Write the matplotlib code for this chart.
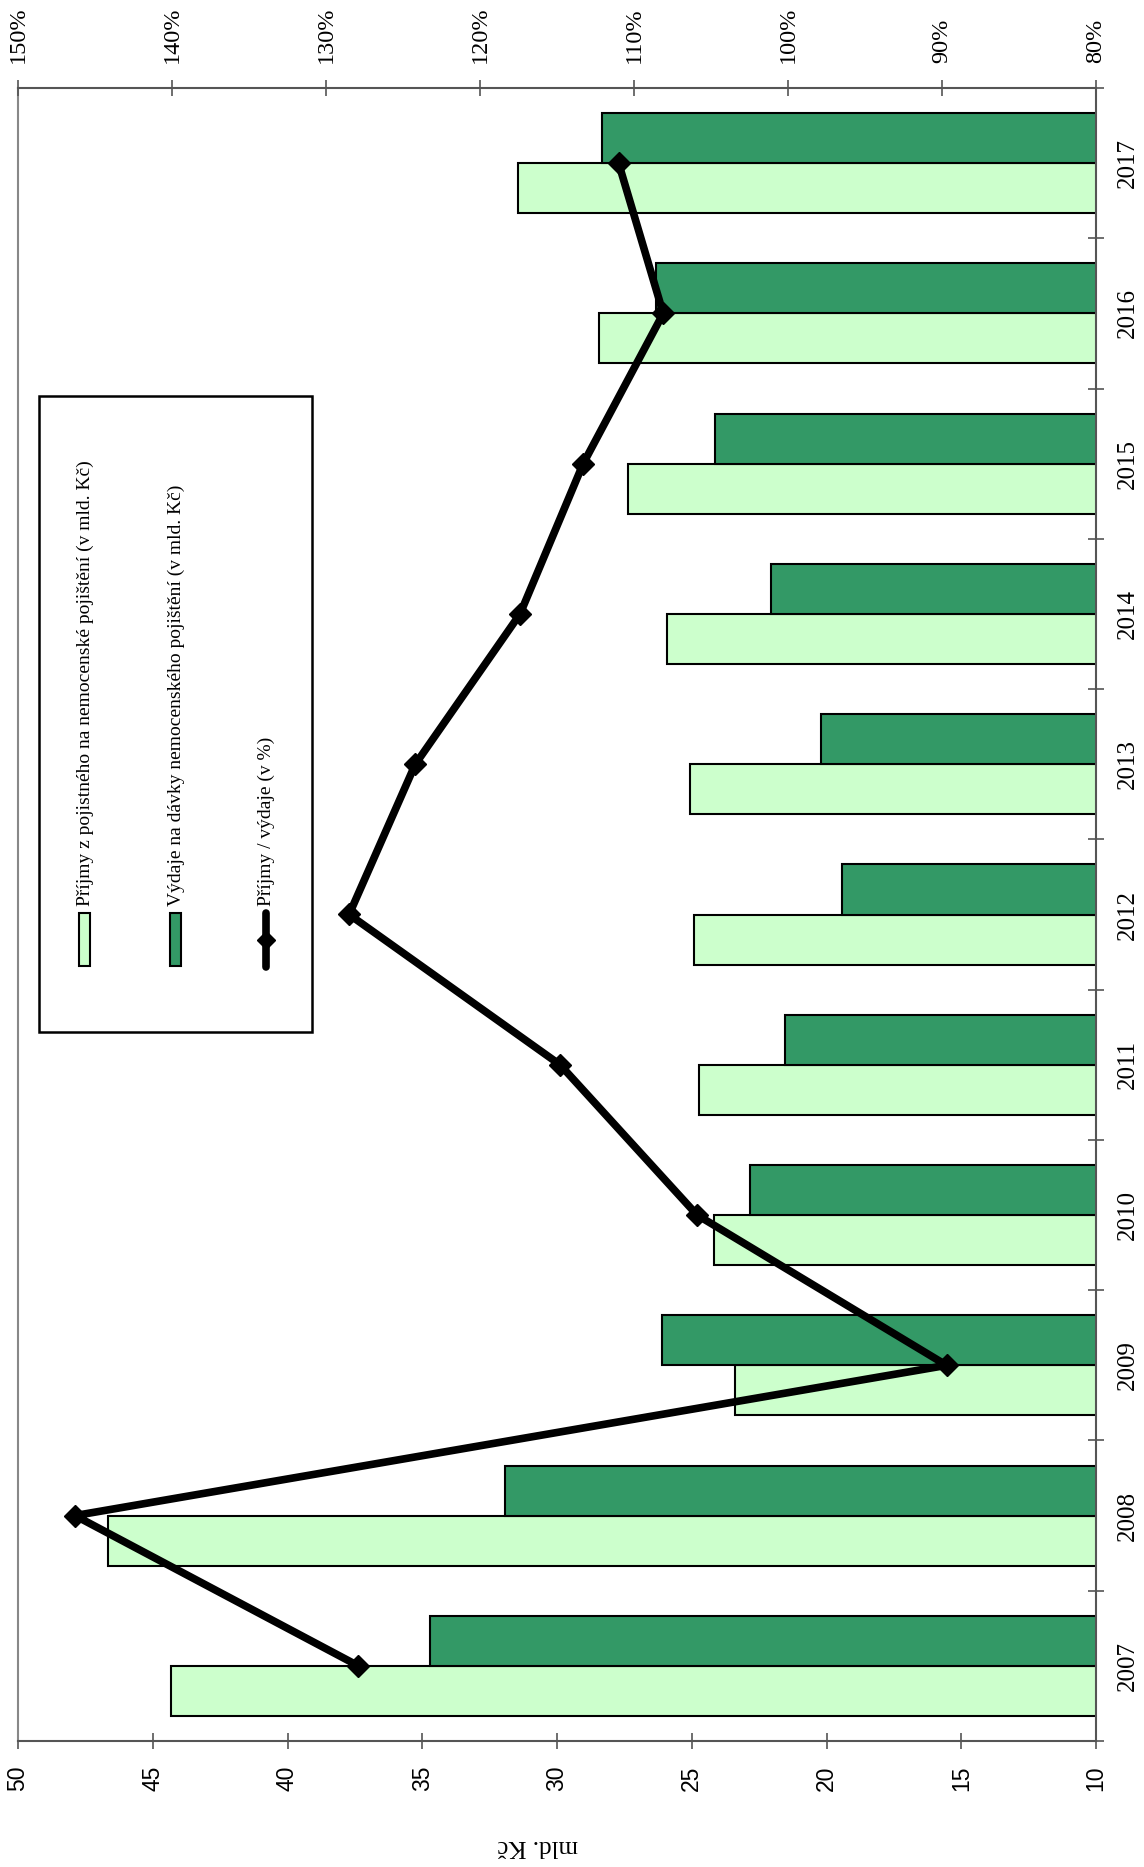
import numpy as np
import matplotlib
matplotlib.use('Agg')
import matplotlib.pyplot as plt
from matplotlib.patches import Rectangle
from matplotlib.lines import Line2D
##########################################################
plt.rcParams['font.family'] = ['Liberation Serif', 'DejaVu Serif']
LIGHT, DARK = '#CCFFCC', '#339966'
AXCOLOR = '#555555'
##########################################################
years = ['2007', '2008', '2009', '2010', '2011', '2012',
         '2013', '2014', '2015', '2016', '2017']
prijmy = [44.33, 46.67, 23.40, 24.19, 24.72, 24.93, 25.07, 25.92, 27.36, 28.43, 31.46]
vydaje = [34.70, 31.93, 26.10, 22.85, 21.54, 19.42, 20.21, 22.07, 24.14, 26.32, 28.34]
pomer = [127.9, 146.3, 89.7, 105.9, 114.8, 128.5, 124.2, 117.4, 113.3, 108.1, 111.0]

value_ticks = [50, 45, 40, 35, 30, 25, 20, 15, 10]
pct_ticks = [150, 140, 130, 120, 110, 100, 90, 80]

label_prijmy = 'Příjmy z pojistného na nemocenské pojištění (v mld. Kč)'
label_vydaje = 'Výdaje na dávky nemocenského pojištění (v mld. Kč)'
label_pomer = 'Příjmy / výdaje (v %)'
##########################################################
W, H = 1144, 1867
fig = plt.figure(figsize=(W / 100, H / 100), dpi=100)

# pixel box of the plot area
px_left, px_right, px_top, px_bottom = 18, 1096, 88, 1741
ax = fig.add_axes([px_left / W, (H - px_bottom) / H,
                   (px_right - px_left) / W, (px_bottom - px_top) / H])

ypos = np.arange(len(years))
bh = 1 / 3
ax.barh(ypos - bh / 2, prijmy, height=bh, left=0, color=LIGHT,
        edgecolor='black', linewidth=1.5, zorder=2)
ax.barh(ypos + bh / 2, vydaje, height=bh, left=0, color=DARK,
        edgecolor='black', linewidth=1.5, zorder=2)

ax.set_xlim(50, 10)
ax.set_ylim(-0.5, len(years) - 0.5)
ax.set_xticks(value_ticks)
ax.set_xticklabels([str(v) for v in value_ticks], rotation=90,
                   family='Liberation Sans', fontsize=16.5)
ax.tick_params(axis='x', direction='inout', length=11, width=1.2,
               color=AXCOLOR, pad=12)

# year axis on the right side
ax.yaxis.tick_right()
ax.set_yticks(np.arange(len(years) + 1) - 0.5)
ax.set_yticklabels([])
ax.set_yticks(ypos, minor=True)
ax.set_yticklabels(years, minor=True, rotation=90, fontsize=18,
                   va='center')
ax.tick_params(axis='y', which='major', direction='inout', length=11,
               width=1.2, color=AXCOLOR)
ax.tick_params(axis='y', which='minor', length=0, pad=15)

for side in ['top', 'bottom', 'right']:
    ax.spines[side].set_color(AXCOLOR)
    ax.spines[side].set_linewidth(1.5)
ax.spines['left'].set_color('#888888')
ax.spines['left'].set_linewidth(1.5)

# percent axis on top
ax2 = ax.twiny()
ax2.plot(pomer, ypos, color='black', linewidth=5.5, marker='D',
         markersize=11, zorder=5)
ax2.set_xlim(150, 80)
ax2.set_xticks(pct_ticks)
ax2.set_xticklabels([str(p) + '%' for p in pct_ticks], rotation=90,
                    fontsize=17.5)
ax2.tick_params(axis='x', direction='inout', length=11, width=1.2,
                color=AXCOLOR, pad=12.5)
for side in ax2.spines:
    ax2.spines[side].set_visible(False)

# axis title (rotated with the whole chart)
fig.text(538 / W, 1 - 1846 / H, 'mld. Kč', rotation=180, fontsize=18,
         ha='center', va='center')

# legend drawn by hand, rotated like the chart
def fx(x):
    return x / W

def fy(y):
    return 1 - y / H

fig.patches.append(Rectangle((fx(39), fy(1032)), fx(312) - fx(39),
                             fy(396) - fy(1032), transform=fig.transFigure,
                             facecolor='white', edgecolor='black',
                             linewidth=1.8, zorder=10))
fig.patches.append(Rectangle((fx(79), fy(966)), fx(11), 53 / H,
                             transform=fig.transFigure, facecolor=LIGHT,
                             edgecolor='black', linewidth=1.5, zorder=11))
fig.patches.append(Rectangle((fx(170), fy(966)), fx(11), 53 / H,
                             transform=fig.transFigure, facecolor=DARK,
                             edgecolor='black', linewidth=1.5, zorder=11))
fig.lines.append(Line2D([fx(266), fx(266)], [fy(967), fy(913)],
                        transform=fig.transFigure, color='black',
                        linewidth=5.5, solid_capstyle='round', zorder=11))
fig.lines.append(Line2D([fx(266)], [fy(940)], transform=fig.transFigure,
                        color='black', marker='D', markersize=9, zorder=12))

for xc, txt in [(85, label_prijmy), (176, label_vydaje), (266, label_pomer)]:
    fig.text(fx(xc), fy(906), txt, rotation=90, fontsize=14,
             ha='center', va='bottom', zorder=12)

plt.savefig('out.png', dpi=100)
